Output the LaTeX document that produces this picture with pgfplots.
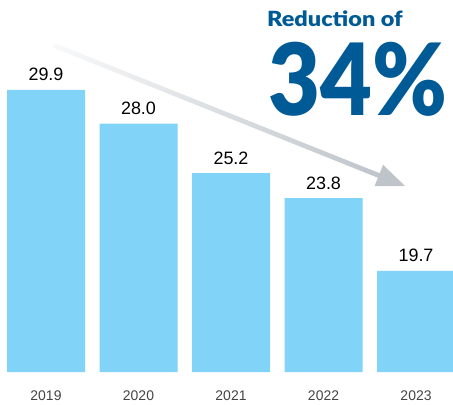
\documentclass[border=0pt]{standalone}
\usepackage{pgfplots}
\pgfplotsset{compat=1.18}
\usepackage{fontspec}
\setmainfont{Liberation Sans}
\newfontfamily\titlefont{Lato Black}
\definecolor{barblue}{HTML}{82D3F8}
\definecolor{titleblue}{HTML}{005A96}
\definecolor{arrowgray}{HTML}{BEC4CA}
\definecolor{yeargray}{HTML}{444444}

\begin{document}
\begin{tikzpicture}[x=1bp,y=1bp]
\path[use as bounding box] (0,0) rectangle (453,404);

% trend arrow
\begin{scope}[shift={(53,359)}, rotate=-21.83]
  \shade[left color=arrowgray!10, right color=arrowgray] (0,-2.4) rectangle (356,2.4);
  \fill[arrowgray] (379.2,0) -- (351,11.5) -- (351,-11.5) -- cycle;
\end{scope}

\begin{axis}[
    at={(-0.25bp,32bp)}, anchor=south west,
    scale only axis, width=462.5bp, height=372.75bp,
    ybar, bar width=78bp,
    xmin=-0.5, xmax=4.5, ymin=14, ymax=35,
    axis line style={draw=none},
    major tick style={draw=none},
    ytick=\empty,
    xtick={0,1,2,3,4},
    xticklabels={2019,2020,2021,2022,2023},
    xticklabel style={font=\fontsize{14}{14}\selectfont, text=yeargray,
      anchor=base, inner sep=0pt, yshift=-24bp},
    /pgf/number format/assume math mode=true,
    nodes near coords={\pgfmathprintnumber[fixed,fixed zerofill,precision=1]{\pgfplotspointmeta}},
    every node near coord/.append style={font=\fontsize{18}{18}\selectfont,
      text=black, anchor=base, inner sep=0pt, yshift=9bp},
  ]
\addplot[fill=barblue, draw=none] coordinates {(0,29.9) (1,28.0) (2,25.2) (3,23.8) (4,19.7)};
\end{axis}

\node[anchor=base west, text=titleblue, inner sep=0pt, xscale=1.12,
  font=\titlefont\fontsize{21}{21}\selectfont] at (267,377.3) {Reduction of};
\node[anchor=base west, text=titleblue, inner sep=0pt, xscale=0.9,
  font=\titlefont\fontsize{100}{100}\selectfont] at (268,289) {34\%};
\end{tikzpicture}
\end{document}
